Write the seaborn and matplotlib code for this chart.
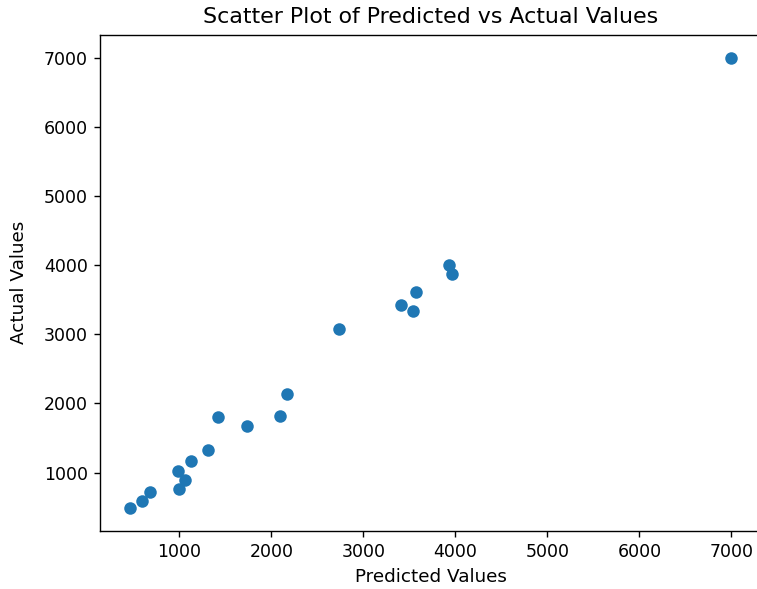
import pandas as pd
import matplotlib.pyplot as plt
import seaborn as sns

# Values
predicted = [464, 591, 682, 983, 1062, 1000, 1127, 1315, 1421, 1739,
             2098, 2167, 2739, 3407, 3540, 3570, 3928, 3964, 7000]
actual = [487, 584, 719, 1019, 899, 762, 1168, 1323, 1806, 1671,
          1826, 2135, 3072, 3420, 3338, 3613, 4004, 3874, 7000]

df = pd.DataFrame({"Predicted": predicted, "Actual": actual})

dpi = 125
fig = plt.figure(figsize=(757 / dpi, 589 / dpi), dpi=dpi)
# axes run slightly past the right edge, like the cropped reference
ax = fig.add_axes([100 / 757, (589 - 530.7) / 589, 661.4 / 757, 495.7 / 589])

sns.scatterplot(data=df, x="Predicted", y="Actual", ax=ax,
                color="#1f77b4", s=52, linewidth=0)

ax.set_title("Scatter Plot of Predicted vs Actual Values", fontsize=12.75, pad=7)
ax.set_xlabel("Predicted Values", fontsize=10.6)
ax.set_ylabel("Actual Values", fontsize=10.6, labelpad=9)

fig.savefig("out.png", dpi=dpi)
